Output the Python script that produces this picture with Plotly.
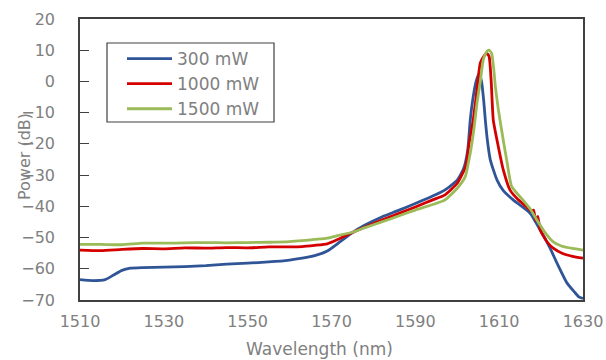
import plotly.graph_objects as go

# 300 mW
wl_300 = [1510, 1513, 1516, 1518, 1520, 1522, 1525, 1530, 1535, 1540, 1545, 1550, 1555, 1560,
          1563, 1566, 1569, 1572, 1575, 1578, 1582, 1586, 1590, 1594, 1597, 1600, 1601.5, 1602.5,
          1603.1, 1603.8, 1604.5, 1605.2, 1605.8, 1606.3, 1606.7, 1607.2, 1607.9, 1609.5, 1611,
          1613.4, 1617.4, 1619.8, 1622, 1623.8, 1626.2, 1628, 1629, 1630]
p_300 = [-63.5, -63.8, -63.5, -62, -60.5, -59.8, -59.6, -59.5, -59.3, -59, -58.5, -58.2, -57.8, -57.2,
         -56.6, -55.8, -54.3, -51.4, -48.4, -46, -43.4, -41.3, -39.1, -36.8, -34.8, -31.6, -28, -22,
         -12.4, -5, 0, 2.5, 0, -6, -12.4, -19, -25.2, -31.6, -35,
         -38, -42.2, -47.6, -53, -58.2, -64.6, -67.5, -69, -69.5]

# 1000 mW
wl_1000 = [1510, 1515, 1520, 1525, 1530, 1535, 1540, 1545, 1550, 1555, 1560, 1563, 1566, 1569,
           1572, 1575, 1578, 1582, 1586, 1590, 1594, 1597, 1600, 1602, 1602.8, 1603.8, 1604.5,
           1605.5, 1606.3, 1607, 1607.6, 1608.1, 1608.6, 1609.8, 1611, 1612.6, 1614.5, 1616.6,
           1617.6, 1618.2, 1618.7, 1619.2, 1619.8, 1621.5, 1622.9, 1625, 1627.5, 1630]
p_1000 = [-54, -54.2, -53.8, -53.5, -53.6, -53.3, -53.4, -53.2, -53.3, -53, -53, -52.9, -52.5, -52,
          -50.3, -48.4, -46.6, -44.4, -42.3, -40.2, -38, -36.4, -32.6, -27.3, -20, -12.4, -5,
          5.9, 8, 9.1, 8, 0, -12.4, -20.9, -28.4, -34.8, -37.8, -40.2,
          -41.5, -41.2, -44.5, -43.2, -47.6, -51.5, -53.4, -55, -56, -56.6]

# 1500 mW
wl_1500 = [1510, 1515, 1520, 1525, 1530, 1535, 1540, 1545, 1550, 1555, 1560, 1563, 1566, 1569,
           1572, 1575, 1578, 1582, 1586, 1590, 1594, 1597, 1600, 1601.9, 1603.1, 1604, 1604.7,
           1605.5, 1606.2, 1607, 1607.6, 1608.2, 1608.7, 1609.1, 1609.8, 1610.2, 1611, 1611.8,
           1613, 1615.7, 1617.5, 1619, 1621, 1622.9, 1625, 1627.5, 1630]
p_1500 = [-52.2, -52.2, -52.3, -51.8, -51.8, -51.7, -51.6, -51.7, -51.6, -51.5, -51.3, -51, -50.6, -50.2,
          -49.2, -48.3, -46.8, -45, -43.1, -41.2, -39.5, -38, -34.2, -30.5, -23, -15, -7,
          0, 6.9, 9.5, 10, 9, 4, -1.7, -9, -12.4, -19, -25.2,
          -33.7, -38, -41, -44.4, -48.5, -51.4, -52.8, -53.5, -54]

series_names = ["300 mW", "1000 mW", "1500 mW"]
x_ticks = [1510, 1530, 1550, 1570, 1590, 1610, 1630]
y_ticks = [-70, -60, -50, -40, -30, -20, -10, 0, 10, 20]

colors = ["#2F5597", "#D40000", "#9BBB59"]
fig = go.Figure()
for i, (xs, ys) in enumerate([(wl_300, p_300), (wl_1000, p_1000), (wl_1500, p_1500)]):
    fig.add_trace(go.Scatter(x=xs, y=ys, mode="lines", name=series_names[i],
                             line=dict(color=colors[i], width=2.8, shape="spline", smoothing=0.5)))

W, H = 606, 360
L, R, T, B = 80, 23, 19, 60
pw = W - L - R
ph = H - T - B
grey = "#808080"


def px_x(p):
    return (p - L) / pw


def px_y(p):
    return (H - B - p) / ph


fig.update_layout(
    width=W, height=H,
    margin=dict(l=L, r=R, t=T, b=B, autoexpand=False),
    paper_bgcolor="white", plot_bgcolor="white",
    font=dict(family="DejaVu Sans", color=grey, size=16),
    showlegend=True,
    legend=dict(x=px_x(122), y=px_y(41), xanchor="left", yanchor="top",
                borderwidth=0, bgcolor="rgba(0,0,0,0)", itemwidth=45,
                font=dict(size=17, color=grey)),
    xaxis=dict(range=[1510, 1630], tickvals=x_ticks, ticks="", showgrid=False,
               showline=True, linecolor="#404040", linewidth=1.5, mirror=True,
               zeroline=False, ticklabelstandoff=6, automargin=False,
               tickfont=dict(size=16, color=grey)),
    yaxis=dict(range=[-70, 20], tickvals=y_ticks, ticks="inside", ticklen=9,
               tickcolor="#404040", tickwidth=1.2, showgrid=False,
               showline=True, linecolor="#404040", linewidth=1.5, mirror=True,
               zeroline=False, ticklabelstandoff=20, automargin=False,
               tickfont=dict(size=16, color=grey)),
    shapes=[dict(type="rect", xref="paper", yref="paper",
                 x0=px_x(107), x1=px_x(274), y0=px_y(122), y1=px_y(43),
                 line=dict(color="#404040", width=1.2), fillcolor="rgba(0,0,0,0)")],
    annotations=[
        dict(text="Wavelength (nm)", x=px_x(319), y=px_y(349),
             xref="paper", yref="paper", xanchor="center", yanchor="middle",
             showarrow=False, font=dict(size=17, color=grey)),
        dict(text="Power (dB)", textangle=-90, x=px_x(24), y=px_y(157),
             xref="paper", yref="paper", xanchor="center", yanchor="middle",
             showarrow=False, font=dict(size=16, color=grey)),
    ],
)

fig.write_html("out.html", config={"displayModeBar": False},
               post_script="document.body.style.margin='0';document.body.style.overflow='hidden';")
